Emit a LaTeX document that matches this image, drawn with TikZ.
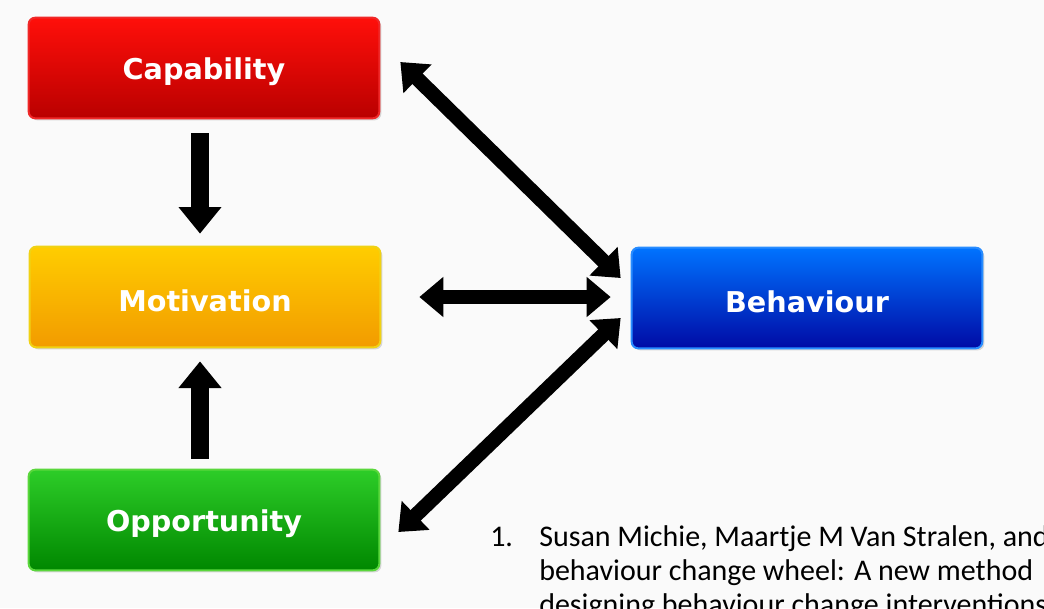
\documentclass[tikz,border=0pt]{standalone}
\usepackage{fontspec}
\usepackage{xcolor}
\usepackage{tikz}
\usetikzlibrary{arrows.meta, positioning, shadows, calc}
\newfontfamily\labelfont{DejaVu Sans}
\newfontfamily\citefont{Carlito}
\definecolor{slidebg}{RGB}{250,250,250}
\definecolor{captop}{RGB}{255,15,10}
\definecolor{capbot}{RGB}{185,0,0}
\definecolor{capline}{RGB}{240,40,40}
\definecolor{mottop}{RGB}{255,205,0}
\definecolor{motbot}{RGB}{242,155,0}
\definecolor{motline}{RGB}{240,210,20}
\definecolor{opptop}{RGB}{45,205,40}
\definecolor{oppbot}{RGB}{0,135,0}
\definecolor{oppline}{RGB}{90,215,60}
\definecolor{behtop}{RGB}{0,115,255}
\definecolor{behbot}{RGB}{0,10,165}
\definecolor{behline}{RGB}{40,140,255}
\newcommand{\lowlabel}[1]{\raisebox{-3pt}[\height][\depth]{#1}}

\begin{document}
\begin{tikzpicture}[x=0.75pt,y=-0.75pt,
    factor/.style={rounded corners=5pt, minimum width=263pt, minimum height=75.5pt,
        line width=1.5pt, text=white, font=\labelfont\bfseries\fontsize{21.5}{26}\selectfont,
        drop shadow={shadow xshift=1.5pt, shadow yshift=-1.5pt, opacity=0.3}},
    dblarrow/.style={line width=11pt, {Triangle[width=29pt,length=18pt]}-{Triangle[width=29pt,length=18pt]}},
    onearrow/.style={line width=14pt, -{Triangle[width=31pt,length=20pt]}},
    cite/.style={font=\citefont\fontsize{22.5}{27}\selectfont, anchor=base west, inner sep=0pt}]
    % Sfondo
    \useasboundingbox (0,0) rectangle (1044,608);
    \clip (0,0) rectangle (1044,608);
    \fill[slidebg] (0,0) rectangle (1044,608);

    % Componenti COM-B
    \node[factor, top color=captop, bottom color=capbot, draw=capline] (cap) at (204,68) {\lowlabel{Capability}};
    \node[factor, top color=mottop, bottom color=motbot, draw=motline] (mot) at (205,297) {\lowlabel{Motivation}};
    \node[factor, top color=opptop, bottom color=oppbot, draw=oppline] (opp) at (204,520) {\lowlabel{Opportunity}};
    \node[factor, top color=behtop, bottom color=behbot, draw=behline] (beh) at (807,298) {\lowlabel{Behaviour}};

    % Frecce verticali
    \draw[onearrow] ($(cap.south)+(-4,14)$) -- ($(mot.north)+(-5,-12)$);
    \draw[onearrow] ($(opp.north)+(-4,-10)$) -- ($(mot.south)+(-5,13)$);

    % Frecce verso il comportamento
    \draw[dblarrow] ($(cap.east)+(20,-6)$) -- ($(beh.west)+(-10,-20)$);
    \draw[dblarrow] ($(mot.east)+(38,0)$) -- ($(beh.west)+(-20,-1)$);
    \draw[dblarrow] ($(opp.east)+(18,12)$) -- ($(beh.west)+(-10,20)$);

    % Riferimento
    \node[cite] (num) at (490,546) {1.};
    \node[cite] (ref1) at (539,546) {Susan Michie, Maartje M Van Stralen, and};
    \node[cite] (ref2) at (539,580) {behaviour change wheel: A new method};
    \node[cite] (ref3) at (539,614) {designing behaviour change interventions};
\end{tikzpicture}
\end{document}
